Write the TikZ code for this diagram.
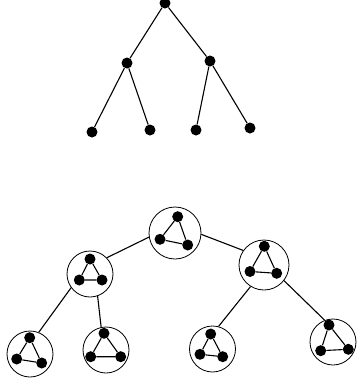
\documentclass[tikz,border=0pt]{standalone}
\begin{document}
\begin{tikzpicture}[x=1pt,y=-1pt]
\tikzset{
  dot/.style={circle,fill=black,inner sep=0pt,minimum size=11pt},
  bubble/.style={circle,draw,line width=0.8pt,inner sep=0pt,minimum size=#1},
  link/.style={line width=1.1pt},
}
\useasboundingbox (0,0) rectangle (357,381);
% top tree
\node[dot] (t0) at (165,3) {};
\node[dot] (t1) at (127,63) {};
\node[dot] (t2) at (210,61) {};
\node[dot] (t3) at (92,132) {};
\node[dot] (t4) at (150,130) {};
\node[dot] (t5) at (196,130) {};
\node[dot] (t6) at (250,128) {};
\draw[link] (t0) -- (t1);
\draw[link] (t0) -- (t2);
\draw[link] (t1) -- (t3);
\draw[link] (t1) -- (t4);
\draw[link] (t2) -- (t5);
\draw[link] (t2) -- (t6);
% bottom tree of bubbles
\node[bubble=52pt] (b0) at (175,233) {};
\node[bubble=46pt] (b1) at (90,274) {};
\node[bubble=50pt] (b2) at (264,265) {};
\node[bubble=46pt] (b3) at (30,354) {};
\node[bubble=46pt] (b4) at (106,350) {};
\node[bubble=46pt] (b5) at (212.5,349) {};
\node[bubble=46pt] (b6) at (333,342) {};
\draw[link] (b0.189) -- (b1.44);
\draw[link] (b0.357) -- (b2.145);
\draw[link] (b1.216) -- (b3.68);
\draw[link] (b1.289) -- (b4.102);
\draw[link] (b2.238) -- (b5.75);
\draw[link] (b2.322) -- (b6.111);
% inner triangles
\node[dot] (a0) at (177.7,216.7) {};
\node[dot] (a1) at (160,239.3) {};
\node[dot] (a2) at (187.7,245) {};
\draw[link] (a0) -- (a1) -- (a2) -- (a0);
\node[dot] (c0) at (90,259) {};
\node[dot] (c1) at (79.3,280) {};
\node[dot] (c2) at (102,280) {};
\draw[link] (c0) -- (c1) -- (c2) -- (c0);
\node[dot] (d0) at (264.3,246.3) {};
\node[dot] (d1) at (250,271.5) {};
\node[dot] (d2) at (276.7,273.3) {};
\draw[link] (d0) -- (d1) -- (d2) -- (d0);
\node[dot] (e0) at (29.7,337.7) {};
\node[dot] (e1) at (16.7,359) {};
\node[dot] (e2) at (41.7,363) {};
\draw[link] (e0) -- (e1) -- (e2) -- (e0);
\node[dot] (f0) at (104,333.3) {};
\node[dot] (f1) at (90.7,356.7) {};
\node[dot] (f2) at (120.7,356.7) {};
\draw[link] (f0) -- (f1) -- (f2) -- (f0);
\node[dot] (g0) at (210.7,334) {};
\node[dot] (g1) at (200,354.3) {};
\node[dot] (g2) at (222.7,356.7) {};
\draw[link] (g0) -- (g1) -- (g2) -- (g0);
\node[dot] (h0) at (329,325) {};
\node[dot] (h1) at (320.7,350.7) {};
\node[dot] (h2) at (348.3,349.3) {};
\draw[link] (h0) -- (h1) -- (h2) -- (h0);
\end{tikzpicture}
\end{document}
